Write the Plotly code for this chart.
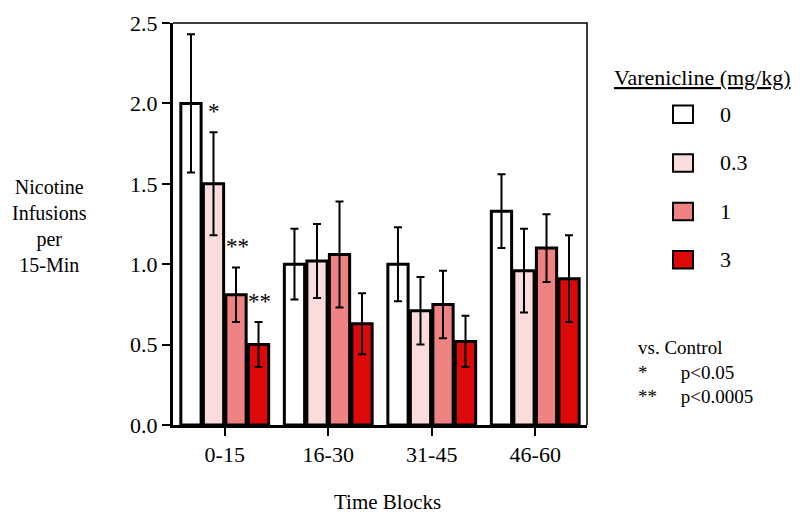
import plotly.graph_objects as go

# ---- data ----
time_blocks = ["0-15", "16-30", "31-45", "46-60"]
doses = ["0", "0.3", "1", "3"]
means = {
    "0":   [2.00, 1.00, 1.00, 1.33],
    "0.3": [1.50, 1.02, 0.71, 0.96],
    "1":   [0.81, 1.06, 0.75, 1.10],
    "3":   [0.50, 0.63, 0.52, 0.91],
}
sems = {
    "0":   [0.43, 0.22, 0.23, 0.23],
    "0.3": [0.32, 0.23, 0.21, 0.26],
    "1":   [0.17, 0.33, 0.21, 0.21],
    "3":   [0.14, 0.19, 0.16, 0.27],
}
colors = {"0": "#ffffff", "0.3": "#fbdcdc", "1": "#ef8383", "3": "#dd0808"}
# significance marks: (dose, time block, label)
sig_marks = [("0.3", "0-15", "*"), ("1", "0-15", "**"), ("3", "0-15", "**")]
y_ticks = [0.0, 0.5, 1.0, 1.5, 2.0, 2.5]

FONT = "Liberation Serif, Times New Roman, serif"
NB = "\u00a0"

fig = go.Figure()
for d in doses:
    fig.add_trace(go.Bar(
        name=d, x=time_blocks, y=means[d],
        marker=dict(color=colors[d], line=dict(color="black", width=3)),
        error_y=dict(type="data", array=sems[d], visible=True,
                     color="black", thickness=2, width=4),
        showlegend=False,
    ))

# bar geometry for placing the asterisks over the right bar
L, R, T, B = 173, 213, 11, 94
plot_w = 800 - L - R
bargap, bargroupgap = 0.13, 0.1
cat_px = plot_w / len(time_blocks)
slot_px = cat_px * (1 - bargap) / len(doses)
for dose, blk, lab in sig_marks:
    i = doses.index(dose)
    j = time_blocks.index(blk)
    shift = (i - (len(doses) - 1) / 2) * slot_px
    fig.add_annotation(x=blk, y=means[dose][j] + sems[dose][j], xref="x", yref="y",
                       text=lab, showarrow=False, xshift=shift + 1, yshift=6,
                       yanchor="bottom", font=dict(family=FONT, size=23, color="black"))

# custom legend
fig.add_annotation(x=1.28, y=0.865, xref="paper", yref="paper",
                   text="<u>Varenicline (mg/kg)</u>", showarrow=False,
                   xanchor="center", yanchor="middle",
                   font=dict(family=FONT, size=22, color="black"))
leg_y = [0.773, 0.652, 0.531, 0.411]
h = 9 / 414
for d, yy in zip(doses, leg_y):
    fig.add_shape(type="rect", xref="paper", yref="paper",
                  x0=1.2077, x1=1.256, y0=yy - h, y1=yy + h,
                  fillcolor=colors[d], line=dict(color="black", width=2))
    fig.add_annotation(x=1.316, y=yy, xref="paper", yref="paper", text=d,
                       showarrow=False, xanchor="left", yanchor="middle",
                       font=dict(family=FONT, size=22, color="black"))

# significance key (one block of text)
key_text = ("vs. Control<br>*" + NB * 7 + "p<0.05<br>**" + NB * 5 + "p<0.0005")
fig.add_annotation(x=1.118, y=0.133, xref="paper", yref="paper", text=key_text,
                   showarrow=False, xanchor="left", yanchor="middle", align="left",
                   font=dict(family=FONT, size=19, color="black"))

# axis titles
fig.add_annotation(x=-0.2995, y=0.495, xref="paper", yref="paper",
                   text="Nicotine<br>Infusions<br>per<br>15-Min", showarrow=False,
                   xanchor="center", yanchor="middle", align="center",
                   font=dict(family=FONT, size=20, color="black"))
fig.add_annotation(x=0.517, y=-0.227, xref="paper", yref="paper",
                   text="Time Blocks", showarrow=False,
                   xanchor="center", yanchor="bottom",
                   font=dict(family=FONT, size=21, color="black"))

# thin top/right frame
fig.add_shape(type="path", xref="paper", yref="paper",
              path="M 0 1 L 1 1 L 1 0", line=dict(color="black", width=1.5))

fig.update_layout(
    width=800, height=519,
    margin=dict(l=L, r=R, t=T, b=B),
    plot_bgcolor="white", paper_bgcolor="white",
    barmode="group", bargap=bargap, bargroupgap=bargroupgap,
    showlegend=False,
    font=dict(family=FONT, size=20, color="black"),
    xaxis=dict(showline=True, linecolor="black", linewidth=3,
               ticks="outside", ticklen=8, tickwidth=1.5, tickcolor="black",
               showgrid=False, zeroline=False, ticklabeloverflow="allow",
               tickfont=dict(family=FONT, size=22)),
    yaxis=dict(range=[0, 2.5], tickvals=y_ticks, tickformat=".1f",
               showline=True, linecolor="black", linewidth=3,
               ticks="outside", ticklen=8, tickwidth=1.5, tickcolor="black",
               showgrid=False, zeroline=False, ticklabeloverflow="allow",
               tickfont=dict(family=FONT, size=22)),
)

fig.write_html("out.html", config={"displayModeBar": False},
               post_script="document.body.style.margin='0';")
